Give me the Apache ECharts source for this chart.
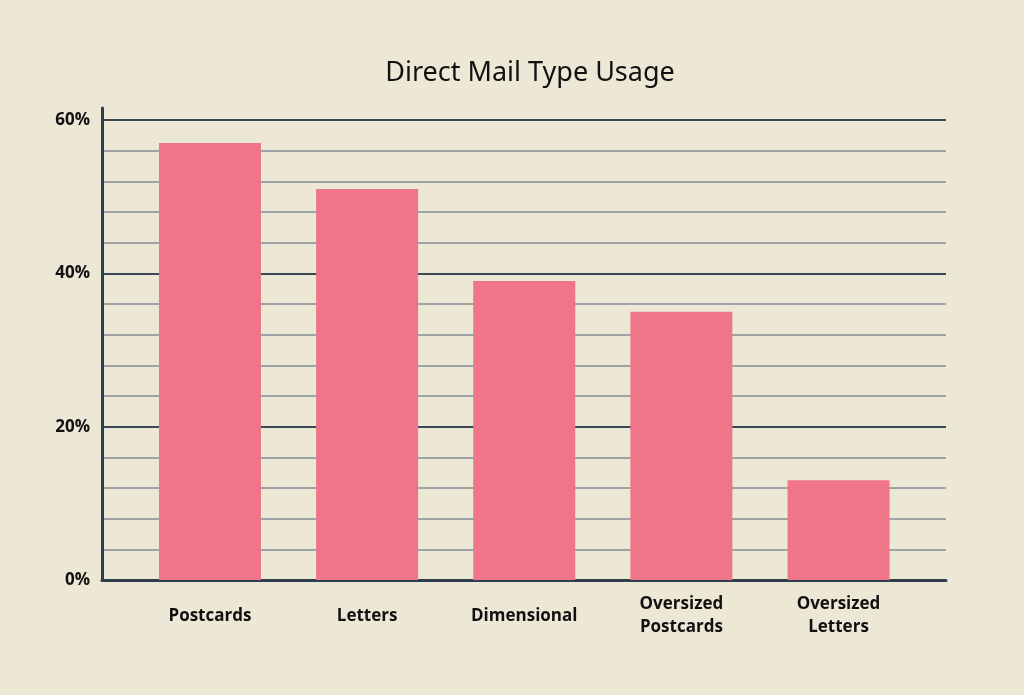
<!DOCTYPE html>
<html>
<head>
<meta charset="utf-8">
<title>Direct Mail Type Usage</title>
<script src="https://cdn.jsdelivr.net/npm/echarts@6/dist/echarts.min.js"></script>
<style>
  html, body { margin: 0; padding: 0; background: #ede7d6; }
  #main { width: 1024px; height: 695px; }
</style>
</head>
<body>
<div id="main"></div>
<script>
// data
var categories = ['Postcards', 'Letters', 'Dimensional', 'Oversized\nPostcards', 'Oversized\nLetters'];
var usage = [57, 51, 39, 35, 13];   // percent
var yTicks = [0, 20, 40, 60];

var barData = [];
for (var i = 0; i < usage.length; i++) {
    barData.push([i, usage[i]]);
}

var chart = echarts.init(document.getElementById('main'));
var labelFont = '"Open Sans", "Noto Sans", sans-serif';
var option = {
    backgroundColor: '#ede7d6',
    animation: false,
    title: {
        text: 'Direct Mail Type Usage',
        left: 525,
        textAlign: 'center',
        top: 55,
        textStyle: {
            fontFamily: '"Noto Sans", sans-serif',
            fontWeight: 'normal',
            fontSize: 27,
            color: '#111111'
        }
    },
    grid: [
        { left: 102, right: 78, top: 120, bottom: 115 },
        // only for the y axis line, which goes a bit above 60%
        { left: 102, right: 78, top: 108, bottom: 115 }
    ],
    xAxis: [
        {
            type: 'value',
            gridIndex: 0,
            min: -0.687,
            max: 4.684,
            axisLine: { show: true, lineStyle: { color: '#2f3e4d', width: 3 } },
            axisTick: { show: false },
            splitLine: { show: false },
            axisLabel: {
                customValues: [0, 1, 2, 3, 4],
                formatter: function (v) { return categories[Math.round(v)]; },
                margin: 36,
                verticalAlign: 'middle',
                lineHeight: 23,
                fontFamily: labelFont,
                fontWeight: 'bold',
                fontSize: 17,
                color: '#111111'
            }
        },
        {
            type: 'value',
            gridIndex: 1,
            show: false
        }
    ],
    yAxis: [
        {
            // minor gridlines every 4%
            type: 'value',
            gridIndex: 0,
            position: 'left',
            min: 0,
            max: 60,
            interval: 4,
            axisLine: { show: false },
            axisTick: { show: false },
            axisLabel: { show: false },
            splitLine: { show: true, lineStyle: { color: '#838e96', width: 1.5 } }
        },
        {
            // major gridlines + labels every 20%
            type: 'value',
            gridIndex: 0,
            position: 'left',
            min: 0,
            max: 60,
            interval: 20,
            axisLine: { show: false },
            axisTick: { show: false },
            axisLabel: {
                customValues: yTicks,
                formatter: '{value}%',
                margin: 12,
                fontFamily: labelFont,
                fontWeight: 'bold',
                fontSize: 17,
                color: '#111111'
            },
            splitLine: { show: true, lineStyle: { color: '#3b4955', width: 2 } }
        },
        {
            type: 'value',
            gridIndex: 1,
            position: 'left',
            min: 0,
            max: 1,
            axisLine: { show: true, lineStyle: { color: '#2f3e4d', width: 3 } },
            axisTick: { show: false },
            axisLabel: { show: false },
            splitLine: { show: false }
        }
    ],
    series: [
        {
            type: 'bar',
            xAxisIndex: 0,
            yAxisIndex: 0,
            data: barData,
            barWidth: 102,
            z: 3,
            itemStyle: { color: '#ef7589' }
        }
    ]
};
chart.setOption(option);
</script>
</body>
</html>
